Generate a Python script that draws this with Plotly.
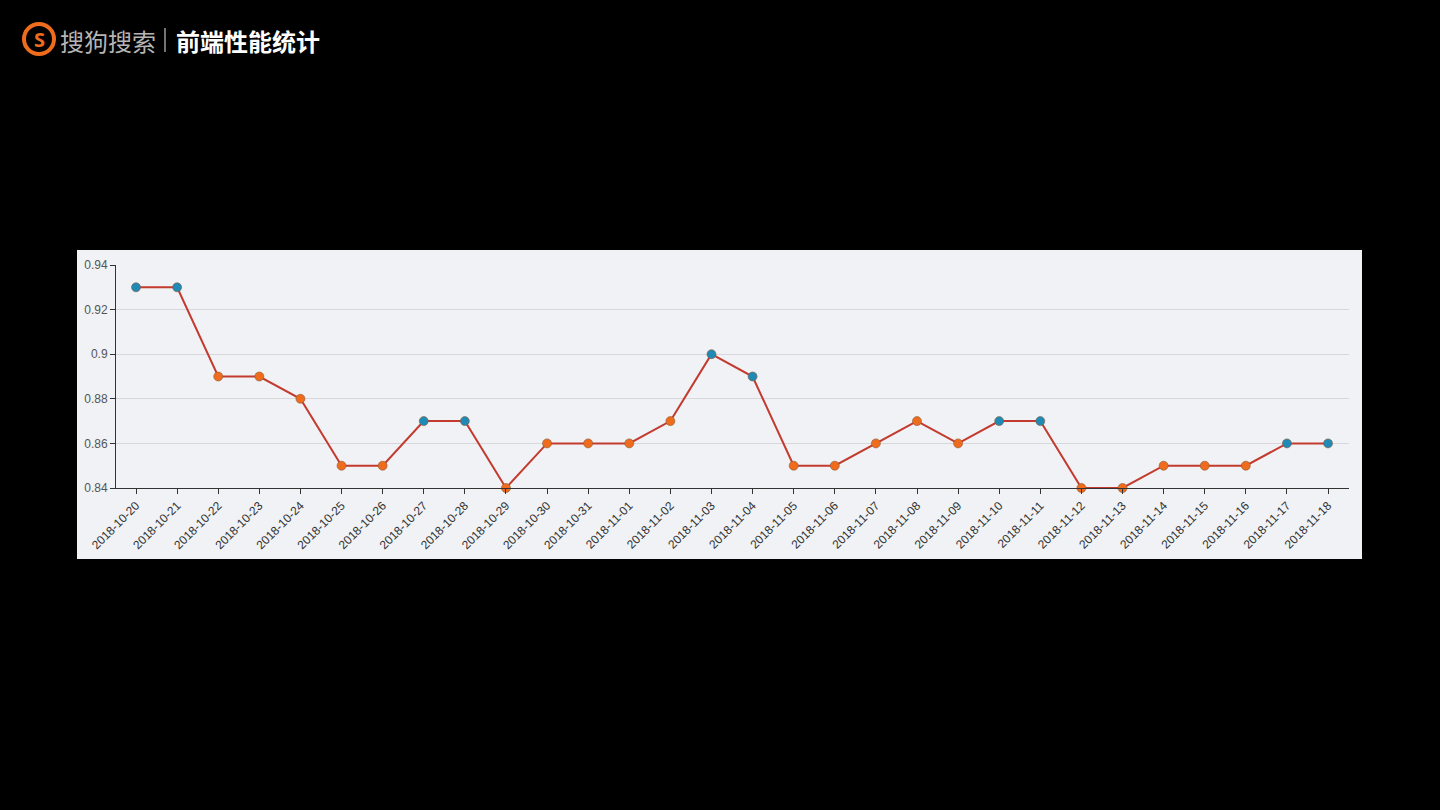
import plotly.graph_objects as go

dates = ["2018-10-20", "2018-10-21", "2018-10-22", "2018-10-23", "2018-10-24", "2018-10-25",
         "2018-10-26", "2018-10-27", "2018-10-28", "2018-10-29", "2018-10-30", "2018-10-31",
         "2018-11-01", "2018-11-02", "2018-11-03", "2018-11-04", "2018-11-05", "2018-11-06",
         "2018-11-07", "2018-11-08", "2018-11-09", "2018-11-10", "2018-11-11", "2018-11-12",
         "2018-11-13", "2018-11-14", "2018-11-15", "2018-11-16", "2018-11-17", "2018-11-18"]
values = [0.93, 0.93, 0.89, 0.89, 0.88, 0.85, 0.85, 0.87, 0.87, 0.84, 0.86, 0.86,
          0.86, 0.87, 0.90, 0.89, 0.85, 0.85, 0.86, 0.87, 0.86, 0.87, 0.87, 0.84,
          0.84, 0.85, 0.85, 0.85, 0.86, 0.86]
groups = ["A", "A", "B", "B", "B", "B", "B", "A", "A", "B", "B", "B",
          "B", "B", "A", "A", "B", "B", "B", "B", "B", "A", "A", "B",
          "B", "B", "B", "B", "A", "A"]
y_ticks = [0.84, 0.86, 0.88, 0.9, 0.92, 0.94]
y_tick_labels = ["0.84", "0.86", "0.88", "0.9", "0.92", "0.94"]

W, H = 1440, 810
L, R, T, B = 116, 1349, 265, 488
group_color = {"A": "#1f8ab5", "B": "#ee6c1c"}


def px(x):
    return (x - L) / (R - L)


def py(y):
    return (B - y) / (B - T)


fig = go.Figure()
fig.add_trace(go.Scatter(
    x=dates, y=values, mode="lines+markers",
    line=dict(color="#c33a2e", width=2),
    marker=dict(size=9, color=[group_color[g] for g in groups],
                line=dict(color="#8a5a3a", width=0.6)),
    cliponaxis=False, showlegend=False, hoverinfo="x+y",
))

shapes = [
    dict(type="rect", xref="paper", yref="paper", x0=px(77), x1=px(1362), y0=py(559), y1=py(250),
         fillcolor="#f0f2f5", line=dict(width=0), layer="below"),
    dict(type="circle", xref="paper", yref="paper", x0=px(24), x1=px(54), y0=py(54), y1=py(24),
         fillcolor="#000000", line=dict(color="#ee6c1c", width=4)),
    dict(type="line", xref="paper", yref="paper", x0=px(165), x1=px(165), y0=py(52), y1=py(28),
         line=dict(color="#9a9a9a", width=1.5)),
]

annotations = [
    dict(text="<b>S</b>", xref="paper", yref="paper", x=px(39), y=py(39), showarrow=False,
         font=dict(family="Noto Sans", size=20, color="#ee6c1c"), xanchor="center", yanchor="middle"),
    dict(text="搜狗搜索", xref="paper", yref="paper", x=px(58), y=py(40), showarrow=False,
         font=dict(family="Noto Sans CJK SC", size=24, color="#b5b5b5"), xanchor="left", yanchor="middle"),
    dict(text="<b>前端性能统计</b>", xref="paper", yref="paper", x=px(174), y=py(40), showarrow=False,
         font=dict(family="Noto Sans CJK SC", size=24, color="#ffffff"), xanchor="left", yanchor="middle"),
]

fig.update_layout(
    width=W, height=H,
    margin=dict(l=L, r=W - R, t=T, b=H - B, pad=0),
    paper_bgcolor="#000000", plot_bgcolor="#f0f2f5",
    shapes=shapes, annotations=annotations,
    xaxis=dict(type="category", range=[-0.487, 29.51], tickangle=-45,
               tickfont=dict(family="Liberation Sans", size=12, color="#333333"),
               showgrid=False, zeroline=False, showline=True, linecolor="#333333", linewidth=1,
               ticks="outside", ticklen=5, tickcolor="#333333", fixedrange=True),
    yaxis=dict(range=[0.84, 0.94], tickvals=y_ticks, ticktext=y_tick_labels,
               tickfont=dict(family="Liberation Sans", size=12, color="#555555"),
               showgrid=True, gridcolor="#d8d8dc", gridwidth=1, zeroline=False,
               showline=True, linecolor="#333333", linewidth=1,
               ticks="outside", ticklen=5, tickcolor="#333333", fixedrange=True),
)

fig.write_html("out.html", config={"displayModeBar": False},
               post_script="document.body.style.margin='0';document.body.style.background='#000';")
